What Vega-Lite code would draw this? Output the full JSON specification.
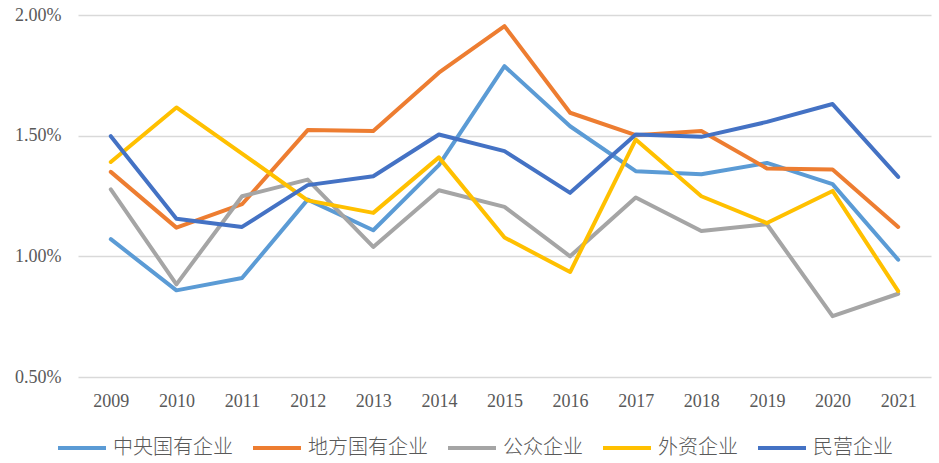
{
  "$schema": "https://vega.github.io/schema/vega-lite/v6.json",
  "width": 853,
  "height": 362,
  "autosize": "none",
  "padding": {"left": 78, "top": 15, "right": 8, "bottom": 86},
  "background": "white",
  "config": {"view": {"stroke": null}},
  "data": {"values": [
    {"year": "2009", "type": "中央国有企业", "value": 0.01071},
    {"year": "2010", "type": "中央国有企业", "value": 0.00859},
    {"year": "2011", "type": "中央国有企业", "value": 0.00910},
    {"year": "2012", "type": "中央国有企业", "value": 0.01235},
    {"year": "2013", "type": "中央国有企业", "value": 0.01108},
    {"year": "2014", "type": "中央国有企业", "value": 0.01378},
    {"year": "2015", "type": "中央国有企业", "value": 0.01788},
    {"year": "2016", "type": "中央国有企业", "value": 0.01539},
    {"year": "2017", "type": "中央国有企业", "value": 0.01353},
    {"year": "2018", "type": "中央国有企业", "value": 0.01340},
    {"year": "2019", "type": "中央国有企业", "value": 0.01387},
    {"year": "2020", "type": "中央国有企业", "value": 0.01299},
    {"year": "2021", "type": "中央国有企业", "value": 0.00986},
    {"year": "2009", "type": "地方国有企业", "value": 0.01350},
    {"year": "2010", "type": "地方国有企业", "value": 0.01119},
    {"year": "2011", "type": "地方国有企业", "value": 0.01216},
    {"year": "2012", "type": "地方国有企业", "value": 0.01523},
    {"year": "2013", "type": "地方国有企业", "value": 0.01519},
    {"year": "2014", "type": "地方国有企业", "value": 0.01761},
    {"year": "2015", "type": "地方国有企业", "value": 0.01954},
    {"year": "2016", "type": "地方国有企业", "value": 0.01595},
    {"year": "2017", "type": "地方国有企业", "value": 0.01502},
    {"year": "2018", "type": "地方国有企业", "value": 0.01519},
    {"year": "2019", "type": "地方国有企业", "value": 0.01364},
    {"year": "2020", "type": "地方国有企业", "value": 0.01360},
    {"year": "2021", "type": "地方国有企业", "value": 0.01122},
    {"year": "2009", "type": "公众企业", "value": 0.01277},
    {"year": "2010", "type": "公众企业", "value": 0.00884},
    {"year": "2011", "type": "公众企业", "value": 0.01249},
    {"year": "2012", "type": "公众企业", "value": 0.01318},
    {"year": "2013", "type": "公众企业", "value": 0.01039},
    {"year": "2014", "type": "公众企业", "value": 0.01274},
    {"year": "2015", "type": "公众企业", "value": 0.01205},
    {"year": "2016", "type": "公众企业", "value": 0.01000},
    {"year": "2017", "type": "公众企业", "value": 0.01244},
    {"year": "2018", "type": "公众企业", "value": 0.01105},
    {"year": "2019", "type": "公众企业", "value": 0.01133},
    {"year": "2020", "type": "公众企业", "value": 0.00752},
    {"year": "2021", "type": "公众企业", "value": 0.00845},
    {"year": "2009", "type": "外资企业", "value": 0.01391},
    {"year": "2010", "type": "外资企业", "value": 0.01617},
    {"year": "2011", "type": "外资企业", "value": 0.01426},
    {"year": "2012", "type": "外资企业", "value": 0.01232},
    {"year": "2013", "type": "外资企业", "value": 0.01180},
    {"year": "2014", "type": "外资企业", "value": 0.01410},
    {"year": "2015", "type": "外资企业", "value": 0.01078},
    {"year": "2016", "type": "外资企业", "value": 0.00935},
    {"year": "2017", "type": "外资企业", "value": 0.01484},
    {"year": "2018", "type": "外资企业", "value": 0.01249},
    {"year": "2019", "type": "外资企业", "value": 0.01138},
    {"year": "2020", "type": "外资企业", "value": 0.01271},
    {"year": "2021", "type": "外资企业", "value": 0.00856},
    {"year": "2009", "type": "民营企业", "value": 0.01498},
    {"year": "2010", "type": "民营企业", "value": 0.01156},
    {"year": "2011", "type": "民营企业", "value": 0.01122},
    {"year": "2012", "type": "民营企业", "value": 0.01295},
    {"year": "2013", "type": "民营企业", "value": 0.01332},
    {"year": "2014", "type": "民营企业", "value": 0.01505},
    {"year": "2015", "type": "民营企业", "value": 0.01436},
    {"year": "2016", "type": "民营企业", "value": 0.01263},
    {"year": "2017", "type": "民营企业", "value": 0.01505},
    {"year": "2018", "type": "民营企业", "value": 0.01495},
    {"year": "2019", "type": "民营企业", "value": 0.01557},
    {"year": "2020", "type": "民营企业", "value": 0.01631},
    {"year": "2021", "type": "民营企业", "value": 0.01329}
  ]},
  "mark": {"type": "line", "strokeWidth": 4, "strokeJoin": "round", "strokeCap": "round"},
  "encoding": {
    "x": {
      "field": "year", "type": "ordinal",
      "scale": {"type": "point", "padding": 0.5},
      "axis": {
        "title": null, "labelAngle": 0, "domain": false, "ticks": false, "grid": false,
        "labelFont": "Liberation Serif", "labelFontSize": 18, "labelColor": "#595959",
        "labelPadding": 15
      }
    },
    "y": {
      "field": "value", "type": "quantitative",
      "scale": {"domain": [0.005, 0.02], "nice": false, "zero": false},
      "axis": {
        "title": null, "values": [0.005, 0.01, 0.015, 0.02], "format": ".2%",
        "domain": false, "ticks": false, "grid": true, "gridColor": "#D9D9D9", "gridWidth": 1.5,
        "labelFont": "Liberation Serif", "labelFontSize": 18, "labelColor": "#595959",
        "labelPadding": 17
      }
    },
    "color": {
      "field": "type", "type": "nominal",
      "scale": {
        "domain": ["中央国有企业", "地方国有企业", "公众企业", "外资企业", "民营企业"],
        "range": ["#5B9BD5", "#ED7D31", "#A5A5A5", "#FFC000", "#4472C4"]
      },
      "legend": {
        "title": null, "orient": "none", "direction": "horizontal",
        "legendX": -22, "legendY": 407,
        "symbolType": "stroke", "symbolSize": 2304, "symbolStrokeWidth": 4,
        "labelFont": "Noto Sans CJK SC", "labelFontSize": 20, "labelFontWeight": 300, "labelColor": "#595959",
        "labelOffset": 5, "columnPadding": 12
      }
    }
  }
}
